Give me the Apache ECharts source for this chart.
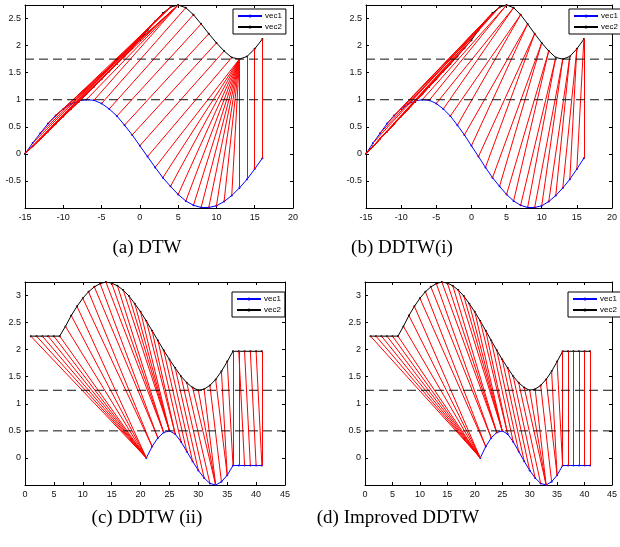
<!DOCTYPE html>
<html>
<head>
<meta charset="utf-8">
<script src="https://cdn.jsdelivr.net/npm/echarts/dist/echarts.min.js"></script>
<style>
  html, body { margin: 0; padding: 0; background: #fff; }
  #chart { width: 620px; height: 547px; }
</style>
</head>
<body>
<div id="chart"></div>
<script>
// ---- data ----
// panels (a) and (b): both vectors on x = -15..16
const xAB = [-15,-14,-13,-12,-11,-10,-9,-8,-7,-6,-5,-4,-3,-2,-1,0,1,2,3,4,5,6,7,8,9,10,11,12,13,14,15,16];
const vec1AB = [0,0.2,0.38,0.56,0.71,0.83,0.92,0.98,1.0,0.99,0.93,0.83,0.7,0.53,0.35,0.15,
  -0.05,-0.25,-0.44,-0.6,-0.75,-0.87,-0.95,-0.99,-0.99,-0.96,-0.88,-0.77,-0.63,-0.47,-0.28,-0.08];
const vec2AB = [0,0.14,0.28,0.41,0.55,0.69,0.83,0.96,1.1,1.24,1.38,1.52,1.66,1.8,1.95,2.1,
  2.28,2.45,2.6,2.71,2.75,2.7,2.57,2.4,2.22,2.05,1.9,1.78,1.75,1.8,1.94,2.12];
const dashAB = [1, 1.75];

// panels (c) and (d): vec1 on x = 21..41, vec2 on x = 1..41
const xC1 = [21,22,23,24,25,26,27,28,29,30,31,32,33,34,35,36,37,38,39,40,41];
const vec1CD = [0,0.21,0.37,0.47,0.5,0.44,0.3,0.12,-0.06,-0.23,-0.37,-0.47,-0.5,-0.44,-0.32,-0.14,
  -0.14,-0.14,-0.14,-0.14,-0.14];
const xC2 = [1,2,3,4,5,6,7,8,9,10,11,12,13,14,15,16,17,18,19,20,21,22,23,24,25,26,27,28,29,30,
  31,32,33,34,35,36,37,38,39,40,41];
const vec2CD = [2.25,2.25,2.25,2.25,2.25,2.25,2.43,2.63,2.8,2.95,3.07,3.16,3.22,3.25,3.23,3.18,
  3.1,2.99,2.85,2.7,2.53,2.35,2.17,1.99,1.82,1.66,1.51,1.39,1.3,1.25,1.27,1.34,1.45,1.6,1.78,
  1.97,1.97,1.97,1.97,1.97,1.97];
const dashCD = [0.5, 1.25];

// warping paths: [x of vec1 point, x of vec2 point]
const pathA = [[-15,-15],[-15,-14],[-15,-13],[-15,-12],[-15,-11],[-15,-10],[-15,-9],[-15,-8],
  [-15,-7],[-15,-6],[-15,-5],[-15,-4],[-15,-3],[-15,-2],[-15,-1],[-15,0],[-15,1],[-15,2],[-15,3],
  [-14,4],[-13,4],[-12,4],[-11,5],[-10,5],[-9,5],[-8,5],[-7,5],[-6,5],
  [-5,6],[-4,7],[-3,8],[-2,9],[-1,10],[0,11],[1,12],
  [2,13],[3,13],[4,13],[5,13],[6,13],[7,13],[8,13],[9,13],[10,13],[11,13],[12,13],[13,13],
  [14,14],[15,15],[16,16]];
const pathB = [[-15,-15],[-15,-14],[-15,-13],[-15,-12],[-15,-11],[-15,-10],[-15,-9],[-15,-8],
  [-15,-7],[-15,-6],[-15,-5],[-15,-4],[-15,-3],[-15,-2],[-15,-1],[-15,0],[-15,1],
  [-14,2],[-13,2],[-12,3],[-11,3],[-10,3],[-9,4],[-8,4],
  [-7,5],[-6,5],[-5,6],[-4,6],[-3,7],[-2,7],[-1,8],[0,8],[1,9],[2,9],[3,10],[4,10],
  [5,11],[6,11],[7,12],[8,12],[9,13],[10,13],[11,14],[12,14],[13,15],[14,15],[15,16],[16,16]];
const pathC = [[21,1],[21,2],[21,3],[21,4],[21,5],[21,6],[21,7],[21,8],[21,9],
  [22,10],[22,11],[23,12],[23,13],[24,14],[24,15],[24,16],[25,17],[25,18],[25,19],[25,20],
  [26,21],[26,22],[27,23],[28,24],[29,25],[30,26],[31,27],[32,28],[33,29],[33,30],[33,31],
  [34,32],[35,33],[35,34],[36,35],[36,36],[37,37],[38,37],[39,38],[40,39],[41,40],[41,41]];
const pathD = [[21,1],[21,2],[21,3],[21,4],[21,5],[21,6],[21,7],[21,8],[21,9],
  [22,10],[22,11],[23,12],[23,13],[24,14],[24,15],[24,16],[25,17],[25,18],[25,19],[25,20],
  [26,21],[26,22],[27,23],[28,24],[29,25],[30,26],[31,27],[32,28],[33,29],[33,30],[33,31],
  [34,32],[35,33],[35,34],[36,35],[36,36],[37,37],[38,38],[39,39],[40,40],[41,41]];

const captions = ['(a) DTW', '(b) DDTW(i)', '(c) DDTW (ii)', '(d) Improved DDTW'];

// ---- layout ----
const panels = [
  { box: {left: 25, top: 5, width: 268, height: 203}, xr: [-15, 20], yr: [-1, 2.75],
    x1: xAB, v1: vec1AB, x2: xAB, v2: vec2AB, path: pathA, dash: dashAB,
    legend: {left: 233, top: 9}, cap: [147, 248] },
  { box: {left: 366, top: 5, width: 258, height: 203}, xr: [-15, 20], yr: [-1, 2.75],
    x1: xAB, v1: vec1AB, x2: xAB, v2: vec2AB, path: pathB, dash: dashAB,
    legend: {left: 569, top: 9}, cap: [402, 248] },
  { box: {left: 25, top: 282, width: 260, height: 203}, xr: [0, 45], yr: [-0.5, 3.25],
    x1: xC1, v1: vec1CD, x2: xC2, v2: vec2CD, path: pathC, dash: dashCD,
    legend: {left: 232, top: 292}, cap: [147, 518] },
  { box: {left: 365, top: 282, width: 260, height: 203}, xr: [0, 45], yr: [-0.5, 3.25],
    x1: xC1, v1: vec1CD, x2: xC2, v2: vec2CD, path: pathD, dash: dashCD,
    legend: {left: 568, top: 292}, cap: [398, 518] }
];

const option = {
  animation: false,
  backgroundColor: '#fff',
  grid: [], xAxis: [], yAxis: [], legend: [], series: [], graphic: []
};

const frame = {
  axisLine: {show: true, onZero: false, lineStyle: {color: '#000', width: 1}},
  axisTick: {show: true, inside: true, length: 3, lineStyle: {color: '#000'}},
  splitLine: {show: false}
};
const tickFont = {fontSize: 9, color: '#111', fontFamily: 'Liberation Sans'};

panels.forEach((p, k) => {
  option.grid.push(p.box);
  const xi = 2 * k, yi = 2 * k;

  option.xAxis.push({type: 'value', gridIndex: k, position: 'bottom', min: p.xr[0], max: p.xr[1],
    interval: 5, ...frame, axisLabel: {...tickFont, margin: 5}});
  option.xAxis.push({type: 'value', gridIndex: k, position: 'top', min: p.xr[0], max: p.xr[1],
    interval: 5, ...frame, axisLabel: {show: false}});
  option.yAxis.push({type: 'value', gridIndex: k, position: 'left', min: p.yr[0], max: p.yr[1],
    interval: 0.5, ...frame,
    axisLabel: {...tickFont, margin: 4, showMinLabel: false, showMaxLabel: false}});
  option.yAxis.push({type: 'value', gridIndex: k, position: 'right', min: p.yr[0], max: p.yr[1],
    interval: 0.5, ...frame, axisLabel: {show: false}});

  const y1 = x => p.v1[p.x1.indexOf(x)];
  const y2 = x => p.v2[p.x2.indexOf(x)];

  option.series.push({
    type: 'line', name: 'vec1', xAxisIndex: xi, yAxisIndex: yi, silent: true, z: 2,
    data: p.x1.map((x, i) => [x, p.v1[i]]),
    symbol: 'circle', symbolSize: 2,
    lineStyle: {color: '#0000ff', width: 1}, itemStyle: {color: '#0000ff'}
  });
  option.series.push({
    type: 'line', name: 'vec2', xAxisIndex: xi, yAxisIndex: yi, silent: true, z: 2,
    data: p.x2.map((x, i) => [x, p.v2[i]]),
    symbol: 'circle', symbolSize: 2,
    lineStyle: {color: '#000', width: 1}, itemStyle: {color: '#000'}
  });
  option.series.push({
    type: 'lines', coordinateSystem: 'cartesian2d', xAxisIndex: xi, yAxisIndex: yi,
    silent: true, z: 3,
    lineStyle: {color: '#ff0000', width: 1, opacity: 1},
    data: p.path.map(([a, b]) => ({coords: [[a, y1(a)], [b, y2(b)]]}))
  });
  p.dash.forEach(v => {
    option.series.push({
      type: 'line', xAxisIndex: xi, yAxisIndex: yi, silent: true, z: 4, symbol: 'none',
      data: [[p.xr[0], v], [p.xr[1], v]],
      lineStyle: {color: '#111', width: 1, type: [9, 5]}
    });
  });

  option.legend.push({
    left: p.legend.left, top: p.legend.top, orient: 'vertical', z: 10,
    data: ['vec1', 'vec2'], selectedMode: false,
    backgroundColor: '#fff', borderColor: '#000', borderWidth: 1, borderRadius: 0,
    padding: [3, 4, 3, 4], itemGap: 3, itemWidth: 24, itemHeight: 4,
    textStyle: {fontSize: 8, color: '#000', fontFamily: 'Liberation Sans', padding: [0, 0, 0, -2]}
  });

  option.graphic.push({
    type: 'text', x: p.cap[0], y: p.cap[1], z: 10,
    style: {text: captions[k], font: '19px "Liberation Serif"', fill: '#000',
      textAlign: 'center', textVerticalAlign: 'middle'}
  });
});

const chart = echarts.init(document.getElementById('chart'));
chart.setOption(option);
</script>
</body>
</html>
